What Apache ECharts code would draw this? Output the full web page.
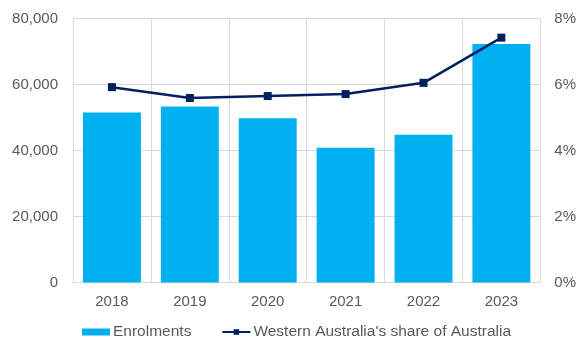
<!DOCTYPE html>
<html>
<head>
<meta charset="utf-8">
<script src="https://cdn.jsdelivr.net/npm/echarts@6/dist/echarts.min.js"></script>
<style>
  html, body { margin: 0; padding: 0; background: #fff; }
  #chart { width: 579px; height: 338px; }
</style>
</head>
<body>
<div id="chart"></div>
<script>
// Years on the category axis
var years = ['2018', '2019', '2020', '2021', '2022', '2023'];
// International student enrolments in Western Australia
var enrolments = [51500, 53300, 49800, 40800, 44800, 72300];
// Western Australia's share of national enrolments (%)
var waShare = [5.92, 5.59, 5.65, 5.71, 6.05, 7.42];

var axisText = { color: '#595959', fontSize: 15, fontFamily: 'Liberation Sans, Arial, sans-serif' };
var gridLine = { lineStyle: { color: '#d9d9d9', width: 1 } };

var chart = echarts.init(document.getElementById('chart'));
chart.setOption({
  animation: false,
  textStyle: { fontFamily: 'Liberation Sans, Arial, sans-serif' },
  grid: { left: 73, right: 38, top: 18.5, bottom: 55.5 },
  legend: {
    top: 324,
    left: 82,
    padding: 0,
    itemWidth: 28,
    itemHeight: 7,
    itemGap: 30,
    textStyle: { color: '#595959', fontSize: 15.5, padding: [0, 0, 0, -2] },
    data: [
      { name: 'Enrolments', icon: 'rect' },
      { name: "Western Australia's share of Australia" }
    ]
  },
  xAxis: {
    type: 'category',
    data: years,
    axisTick: { show: false },
    axisLine: { lineStyle: { color: '#d9d9d9' } },
    splitLine: { show: true, lineStyle: { color: '#d9d9d9' } },
    axisLabel: Object.assign({ margin: 11.5 }, axisText)
  },
  yAxis: [
    {
      type: 'value',
      min: 0, max: 80000, interval: 20000,
      axisLine: { show: false },
      axisTick: { show: false },
      splitLine: gridLine,
      axisLabel: Object.assign({
        margin: 15,
        formatter: function (v) { return v.toLocaleString('en-US'); }
      }, axisText)
    },
    {
      type: 'value',
      min: 0, max: 8, interval: 2,
      axisLine: { show: false },
      axisTick: { show: false },
      splitLine: { show: false },
      axisLabel: Object.assign({ margin: 14, formatter: '{value}%' }, axisText)
    }
  ],
  series: [
    {
      name: 'Enrolments',
      type: 'bar',
      data: enrolments,
      barCategoryGap: '25.6%',
      itemStyle: { color: '#00b0f0' }
    },
    {
      name: "Western Australia's share of Australia",
      type: 'line',
      yAxisIndex: 1,
      data: waShare,
      symbol: 'rect',
      symbolSize: 8,
      lineStyle: { color: '#002060', width: 2.5 },
      itemStyle: { color: '#002060' }
    }
  ]
});
</script>
</body>
</html>
